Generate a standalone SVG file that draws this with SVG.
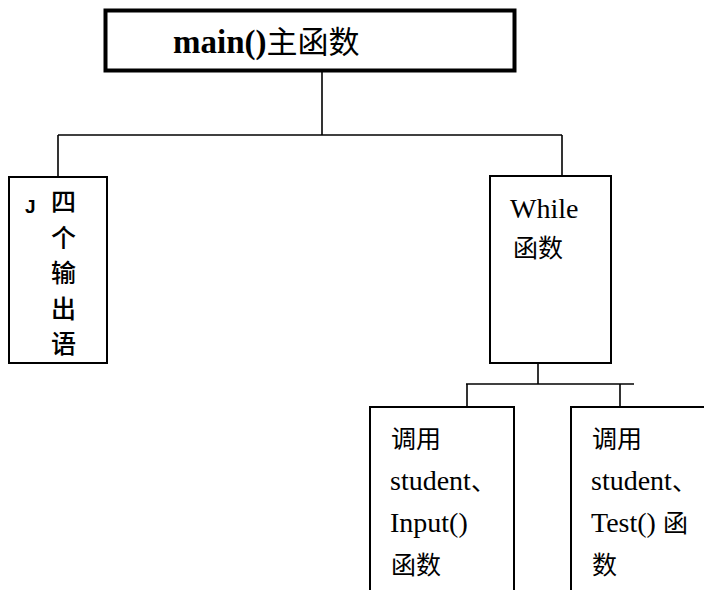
<svg xmlns="http://www.w3.org/2000/svg" width="704" height="590" viewBox="0 0 704 590">
<style>
.box{fill:#fff;stroke:#000;stroke-width:2}
.main{fill:#fff;stroke:#000;stroke-width:4}
.con{fill:none;stroke:#000;stroke-width:1.6}
.t{font-family:"Liberation Serif","Noto Sans CJK SC",serif;font-size:28px;fill:#000}
.cj{font-family:"Noto Sans CJK SC","Liberation Serif",sans-serif;font-size:25px}
.hei{font-family:"Noto Sans CJK SC",sans-serif;font-size:25px;font-weight:500;fill:#000}
.mark{font-family:"Liberation Sans",sans-serif;font-size:19px;font-weight:bold;fill:#000}
</style>
<rect width="704" height="590" fill="#fff"/>
<g id="connectors">
<line class="con" x1="322" y1="72" x2="322" y2="135"/>
<line class="con" x1="58" y1="135" x2="562" y2="135"/>
<line class="con" x1="58" y1="135" x2="58" y2="177"/>
<line class="con" x1="562" y1="135" x2="562" y2="176"/>
<line class="con" x1="538" y1="363" x2="538" y2="384"/>
<line class="con" x1="466" y1="384" x2="634" y2="384"/>
<line class="con" x1="467" y1="384" x2="467" y2="407"/>
<line class="con" x1="620" y1="384" x2="620" y2="407"/>
</g>
<g id="main">
<rect class="main" x="105.5" y="10.5" width="409" height="60"/>
<text x="173" y="53" class="t" style="font-size:33px;font-weight:bold">main()<tspan style="font-family:'Noto Sans CJK SC',sans-serif;font-size:31px;font-weight:normal">主函数</tspan></text>
</g>
<g id="output">
<rect class="box" x="9" y="177" width="98" height="186"/>
<text class="mark" x="25" y="213">J</text>
<text class="hei" x="51" y="211">四</text>
<text class="hei" x="51" y="246.5">个</text>
<text class="hei" x="51" y="282">输</text>
<text class="hei" x="51" y="317.5">出</text>
<text class="hei" x="51" y="353">语</text>
</g>
<g id="while">
<rect class="box" x="490" y="176" width="121" height="187"/>
<text class="t" x="510" y="218">While</text>
<text class="t" x="513" y="257"><tspan class="cj">函数</tspan></text>
</g>
<g id="input">
<rect class="box" x="370" y="407" width="144" height="220"/>
<text class="t" x="391" y="448"><tspan class="cj">调用</tspan></text>
<text class="t" x="390" y="490">student<tspan class="cj">、</tspan></text>
<text class="t" x="390" y="532">Input()</text>
<text class="t" x="391" y="574"><tspan class="cj">函数</tspan></text>
</g>
<g id="test">
<rect class="box" x="571" y="407" width="180" height="220"/>
<text class="t" x="592" y="448"><tspan class="cj">调用</tspan></text>
<text class="t" x="591" y="490">student<tspan class="cj">、</tspan></text>
<text class="t" x="591" y="532">Test() <tspan class="cj">函</tspan></text>
<text class="t" x="592" y="574"><tspan class="cj">数</tspan></text>
</g>
</svg>
